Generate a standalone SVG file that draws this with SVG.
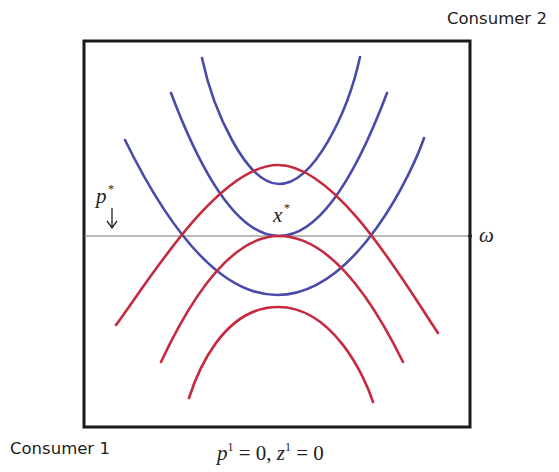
<svg xmlns="http://www.w3.org/2000/svg" width="559" height="472" viewBox="0 0 559 472">
<style>
.blue{fill:none;stroke:#4a4aaa;stroke-width:2.6;stroke-linecap:round}
.red{fill:none;stroke:#c62a3e;stroke-width:2.6;stroke-linecap:round}
.lbl{font-family:"DejaVu Sans",Verdana,sans-serif;font-size:16.5px;fill:#222}
.math{font-family:"Liberation Serif","Times New Roman",serif;fill:#222}
</style>
<rect width="559" height="472" fill="#fff"/>
<g id="box"><rect x="84" y="41" width="386" height="386" fill="none" stroke="#1a1a1a" stroke-width="3"/></g>
<g id="connectors">
<line x1="84" y1="236" x2="470" y2="236" stroke="#777" stroke-width="1.1"/>
<circle cx="470" cy="236" r="2" fill="#222"/>
<path d="M112,208 V228 M107,221 L112,228 L117,221" fill="none" stroke="#222" stroke-width="1.3"/>
</g>
<g id="consumer2-curves">
<path id="blue1" class="blue" d="M202,58 C213,110 246,184 279,184 C314,184 348,112 360,57"/>
<path id="blue2" class="blue" d="M171,93 Q279,379 387,93"/>
<path id="blue3" class="blue" d="M125,140 Q201,295 277,295 C357,295 414,168 424,138"/>
</g>
<g id="consumer1-curves">
<path id="red1" class="red" d="M116,325 C146,285 218,165 278,165 C338,165 408,289 438,333"/>
<path id="red2" class="red" d="M161,362 Q220,236 279,236 Q341,236 403,362"/>
<path id="red3" class="red" d="M189,398 C197,373 223,307 278,307 C333,307 365,377 373,402"/>
</g>
<g id="labels">
<text class="lbl" x="447" y="24">Consumer 2</text>
<text class="lbl" x="10" y="454">Consumer 1</text>
<text class="math" x="96" y="203" font-size="21" font-style="italic">p</text>
<text class="math" x="108" y="193" font-size="12">*</text>
<text class="math" x="273" y="222" font-size="21" font-style="italic">x</text>
<text class="math" x="284" y="212" font-size="12">*</text>
<text class="math" x="479" y="242" font-size="21" font-style="italic">ω</text>
<text class="math" x="217" y="460" font-size="21"><tspan font-style="italic">p</tspan><tspan font-size="12" dy="-9">1</tspan><tspan dy="9"> = 0, </tspan><tspan font-style="italic">z</tspan><tspan font-size="12" dy="-9">1</tspan><tspan dy="9"> = 0</tspan></text>
</g>
</svg>
